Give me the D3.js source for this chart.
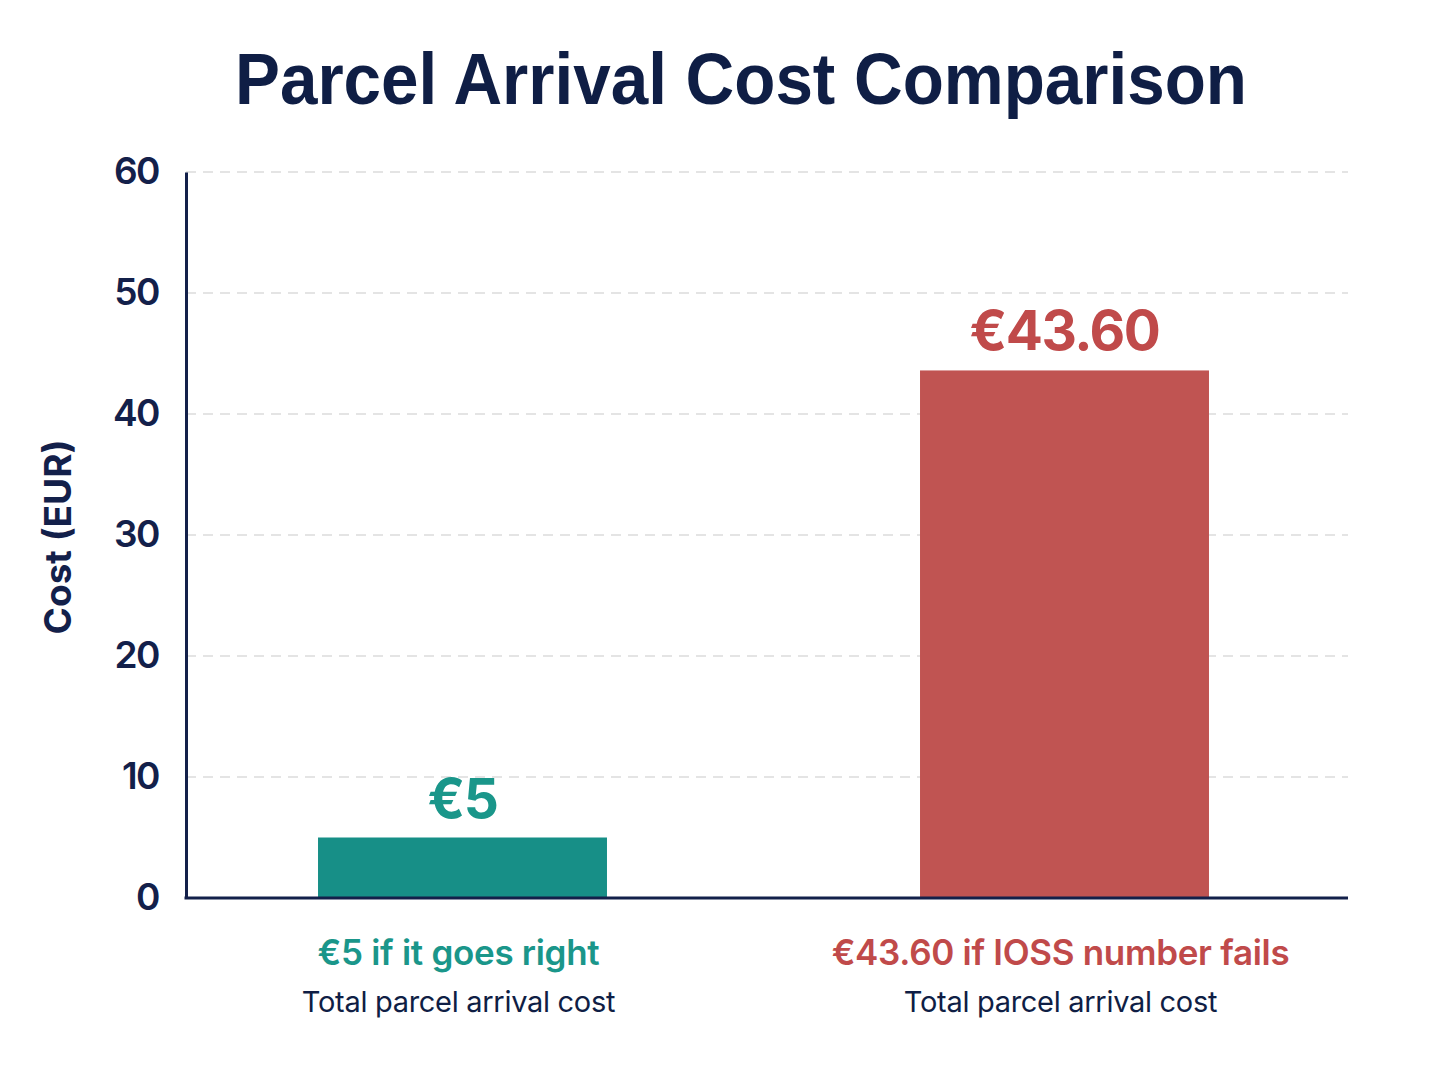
<!DOCTYPE html>
<html>
<head>
<meta charset="utf-8">
<script src="https://cdn.jsdelivr.net/npm/d3@7"></script>
<style>
  html, body { margin: 0; padding: 0; background: #ffffff; }
  svg { display: block; }
</style>
</head>
<body>
<svg id="chart" width="1448" height="1086"></svg>
<script>
// ---- data ----
const categories = ["right", "fails"];
const values = [5, 43.6];
const valueLabels = ["€5", "€43.60"];
const categoryTitles = ["€5 if it goes right", "€43.60 if IOSS number fails"];
const categorySubtitles = ["Total parcel arrival cost", "Total parcel arrival cost"];
const barColors = ["#178f87", "#c05452"];
const labelColors = ["#1a968a", "#c04a4a"];
const yTicks = [0, 10, 20, 30, 40, 50, 60];
const yLabel = "Cost (EUR)";
const title = "Parcel Arrival Cost Comparison";

const navy = "#13204a";
const svg = d3.select("#chart");
svg.append("rect").attr("width", 1448).attr("height", 1086).attr("fill", "#ffffff");

const plotLeft = 186, plotRight = 1348, plotTop = 172, plotBottom = 898;

const y = d3.scaleLinear().domain([0, 60]).range([plotBottom, plotTop]);
const x = d3.scaleBand().domain(categories)
  .range([161.5, 1365.5]).paddingInner(0.52).paddingOuter(0.26);

// title
svg.append("text")
  .attr("x", 741).attr("y", 104)
  .attr("text-anchor", "middle")
  .attr("font-family", "'Liberation Sans', Arial, sans-serif")
  .attr("font-weight", 700)
  .attr("font-size", 73)
  .attr("fill", "#0f1e45")
  .attr("textLength", 1012)
  .attr("lengthAdjust", "spacingAndGlyphs")
  .text(title);

// gridlines
svg.append("g").selectAll("line")
  .data(yTicks.filter(d => d > 0))
  .join("line")
  .attr("x1", plotLeft).attr("x2", plotRight)
  .attr("y1", d => y(d)).attr("y2", d => y(d))
  .attr("stroke", "#dcdcdc").attr("stroke-width", 1.5)
  .attr("stroke-dasharray", "10,7");

// bars
svg.append("g").selectAll("rect")
  .data(values)
  .join("rect")
  .attr("x", (d, i) => x(categories[i]))
  .attr("width", x.bandwidth())
  .attr("y", d => y(d))
  .attr("height", d => y(0) - y(d))
  .attr("fill", (d, i) => barColors[i]);

// value labels
svg.append("g").selectAll("text")
  .data(values)
  .join("text")
  .attr("x", (d, i) => x(categories[i]) + x.bandwidth() / 2)
  .attr("y", d => y(d) - 20)
  .attr("text-anchor", "middle")
  .attr("font-family", "Inter, 'Noto Sans', sans-serif")
  .attr("font-weight", 700)
  .attr("font-size", 55)
  .attr("letter-spacing", -1.5)
  .attr("fill", (d, i) => labelColors[i])
  .text((d, i) => valueLabels[i]);

// y axis
const yAxis = d3.axisLeft(y).tickValues(yTicks).tickSize(0).tickSizeOuter(0).tickPadding(27)
  .tickFormat(d3.format("d"));
const gy = svg.append("g").attr("transform", `translate(${plotLeft},0)`).call(yAxis);
gy.select(".domain").attr("stroke", navy).attr("stroke-width", 3);
gy.selectAll("text")
  .attr("font-family", "Inter, 'Noto Sans', sans-serif")
  .attr("font-weight", 600)
  .attr("font-size", 37)
  .attr("letter-spacing", -1.5)
  .attr("fill", navy);

// x baseline
svg.append("line")
  .attr("x1", plotLeft - 1.5).attr("x2", plotRight)
  .attr("y1", y(0)).attr("y2", y(0))
  .attr("stroke", navy).attr("stroke-width", 3);

// y axis label
svg.append("text")
  .attr("transform", "translate(71,537) rotate(-90)")
  .attr("text-anchor", "middle")
  .attr("font-family", "Inter, 'Noto Sans', sans-serif")
  .attr("font-weight", 700)
  .attr("font-size", 37)
  .attr("fill", navy)
  .text(yLabel);

// category labels
const cat = svg.append("g");
cat.selectAll("text.t")
  .data(categories)
  .join("text").attr("class", "t")
  .attr("x", d => x(d) + x.bandwidth() / 2 - 4)
  .attr("y", 965)
  .attr("text-anchor", "middle")
  .attr("font-family", "Inter, 'Noto Sans', sans-serif")
  .attr("font-weight", 600)
  .attr("font-size", 35)
  .attr("letter-spacing", -0.3)
  .attr("fill", (d, i) => labelColors[i])
  .text((d, i) => categoryTitles[i]);
cat.selectAll("text.s")
  .data(categories)
  .join("text").attr("class", "s")
  .attr("x", d => x(d) + x.bandwidth() / 2 - 4)
  .attr("y", 1012)
  .attr("text-anchor", "middle")
  .attr("font-family", "Inter, 'Noto Sans', sans-serif")
  .attr("font-weight", 400)
  .attr("font-size", 29)
  .attr("letter-spacing", -0.3)
  .attr("fill", "#0f1e45")
  .text((d, i) => categorySubtitles[i]);
</script>
</body>
</html>
